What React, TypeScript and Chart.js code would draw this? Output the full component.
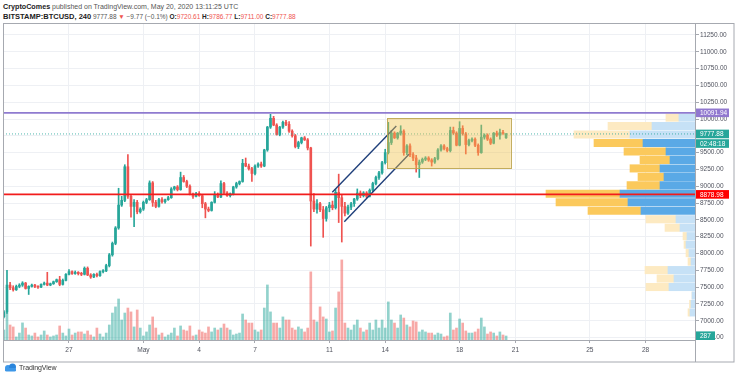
import React, { useEffect, useRef } from 'react';
import { Chart, registerables } from 'chart.js';

Chart.register(...registerables);

const FONT = '"Liberation Sans", Arial, Helvetica, sans-serif';

// Time axis: days relative to 27 Apr 2020 00:00 UTC, 4h candles
const firstCandleDay = -3.5;
const candleStepDay = 1 / 6;
const xMinDay = -3.548;
const xMaxDay = 33.656;
const priceMin = 6713;
const priceMax = 11428;

const opens = [
  7060, 7130, 7530, 7490, 7460, 7510, 7530, 7560, 7480, 7510,
  7530, 7510, 7500, 7540, 7560, 7530, 7550, 7580, 7610, 7540,
  7600, 7690, 7730, 7700, 7720, 7700, 7690, 7780, 7680, 7650,
  7690, 7670, 7730, 7740, 7820, 7980, 8150, 8380, 8720, 8790,
  9290, 8850, 8700, 8760, 8620, 8660, 8760, 8800, 9050, 8760,
  8700, 8800, 8770, 8800, 8830, 8960, 8990, 8950, 9130, 9070,
  9000, 8880, 8850, 8890, 8860, 8740, 8660, 8640, 8760, 8880,
  8840, 9040, 8900, 8860, 8890, 8990, 9040, 9070, 9340, 9300,
  9260, 9190, 9300, 9330, 9300, 9540, 9880, 10010, 9910, 9770,
  9880, 9950, 9920, 9820, 9750, 9590, 9650, 9720, 9690, 9570,
  8780, 8660, 8740, 8650, 8520, 8680, 8720, 8680, 8910, 8830,
  8700, 8600, 8690, 8740, 8810, 8900, 8860, 8900, 8850, 8940,
  9040, 9130, 9200, 9350, 9500, 9650, 9790, 9720, 9790, 9820,
  9500, 9600, 9470, 9420, 9320, 9360, 9400, 9420, 9390, 9360,
  9410, 9540, 9600, 9560, 9530, 9830, 9790, 9610, 9860, 9780,
  9620, 9680, 9700, 9610, 9500, 9730, 9760, 9700, 9640, 9790,
  9760, 9800, 9720.61,
];
const highs = [
  7150, 7750, 7570, 7520, 7530, 7550, 7580, 7570, 7520, 7545,
  7540, 7520, 7550, 7575, 7720, 7560, 7590, 7620, 7660, 7620,
  7700, 7760, 7740, 7740, 7730, 7720, 7800, 7800, 7700, 7700,
  7710, 7740, 7760, 7840, 8000, 8170, 8400, 8970, 8850, 9320,
  9470, 8880, 8800, 8790, 8680, 8780, 8820, 9080, 9070, 8790,
  8820, 8830, 8810, 8850, 8980, 9000, 9010, 9210, 9160, 9090,
  9020, 8900, 8910, 8920, 8880, 8760, 8690, 8770, 8920, 8900,
  9080, 9060, 8920, 8900, 9000, 9060, 9080, 9400, 9420, 9330,
  9280, 9320, 9350, 9360, 9550, 9890, 10070, 10040, 9930, 9890,
  9970, 9980, 9960, 9840, 9770, 9670, 9730, 9740, 9710, 9580,
  8890, 8800, 8760, 8700, 8700, 8760, 8780, 8950, 9180, 8870,
  8760, 8720, 8760, 8820, 8960, 8930, 8920, 8920, 8960, 9060,
  9150, 9220, 9370, 9550, 9950, 9830, 9810, 9800, 9900, 9840,
  9620, 9630, 9500, 9460, 9390, 9420, 9440, 9440, 9410, 9430,
  9560, 9620, 9620, 9580, 9880, 9880, 9810, 9960, 9900, 9800,
  9700, 9720, 9720, 9630, 9910, 9780, 9780, 9720, 9800, 9820,
  9850, 9830, 9786.77,
];
const lows = [
  7040, 7110, 7460, 7440, 7450, 7490, 7510, 7470, 7390, 7500,
  7490, 7480, 7490, 7530, 7520, 7520, 7540, 7570, 7520, 7530,
  7590, 7680, 7690, 7690, 7680, 7670, 7680, 7670, 7630, 7640,
  7650, 7660, 7710, 7730, 7800, 7960, 8130, 8360, 8700, 8770,
  8820, 8540, 8400, 8590, 8600, 8640, 8740, 8790, 8700, 8680,
  8690, 8750, 8750, 8790, 8820, 8940, 8930, 8940, 9060, 8980,
  8870, 8820, 8840, 8850, 8680, 8530, 8620, 8630, 8750, 8830,
  8830, 8890, 8850, 8840, 8870, 8970, 9020, 9060, 9290, 9240,
  9070, 9170, 9280, 9280, 9290, 9520, 9860, 9900, 9760, 9750,
  9860, 9900, 9800, 9730, 9570, 9560, 9630, 9680, 9540, 8110,
  8620, 8600, 8620, 8240, 8480, 8620, 8650, 8660, 8460, 8170,
  8560, 8580, 8650, 8700, 8790, 8830, 8840, 8830, 8840, 8920,
  9020, 9100, 9180, 9330, 9480, 9620, 9710, 9700, 9760, 9460,
  9470, 9440, 9380, 9210, 9130, 9340, 9380, 9370, 9300, 9340,
  9390, 9520, 9540, 9510, 9510, 9770, 9600, 9600, 9760, 9480,
  9600, 9660, 9590, 9460, 9490, 9700, 9680, 9620, 9630, 9740,
  9700, 9770, 9711.0,
];
const closes = [
  7130, 7530, 7490, 7460, 7510, 7530, 7560, 7480, 7510, 7530,
  7510, 7500, 7540, 7560, 7530, 7550, 7580, 7610, 7540, 7600,
  7690, 7730, 7700, 7720, 7700, 7690, 7780, 7680, 7650, 7690,
  7670, 7730, 7740, 7820, 7980, 8150, 8380, 8720, 8790, 9290,
  8850, 8700, 8760, 8620, 8660, 8760, 8800, 9050, 8760, 8700,
  8800, 8770, 8800, 8830, 8960, 8990, 8950, 9130, 9070, 9000,
  8880, 8850, 8890, 8860, 8740, 8660, 8640, 8760, 8880, 8840,
  9040, 8900, 8860, 8890, 8990, 9040, 9070, 9340, 9300, 9260,
  9190, 9300, 9330, 9300, 9540, 9880, 10010, 9910, 9770, 9880,
  9950, 9920, 9820, 9750, 9590, 9650, 9720, 9690, 9570, 8780,
  8660, 8740, 8650, 8520, 8680, 8720, 8680, 8910, 8830, 8700,
  8600, 8690, 8740, 8810, 8900, 8860, 8900, 8850, 8940, 9040,
  9130, 9200, 9350, 9500, 9650, 9790, 9720, 9790, 9820, 9500,
  9600, 9470, 9420, 9320, 9360, 9400, 9420, 9390, 9360, 9410,
  9540, 9600, 9560, 9530, 9830, 9790, 9610, 9860, 9780, 9620,
  9680, 9700, 9610, 9500, 9730, 9760, 9700, 9640, 9790, 9760,
  9800, 9787.65, 9777.88,
];
const volumes = [
  720, 1950, 1080, 940, 220, 500, 1230, 860, 360, 290,
  500, 220, 360, 650, 360, 220, 290, 360, 1010, 500,
  290, 790, 360, 500, 580, 580, 430, 650, 360, 220,
  860, 430, 220, 500, 1080, 1940, 2380, 2950, 1440, 1940,
  2300, 2020, 940, 2160, 860, 290, 580, 1080, 1660, 860,
  360, 500, 220, 360, 500, 860, 290, 1010, 720, 650,
  1010, 290, 360, 720, 580, 500, 940, 580, 860, 720,
  860, 1150, 860, 720, 360, 430, 500, 1870, 1440, 1220,
  1220, 720, 580, 720, 2300, 3960, 2020, 1220, 1220, 860,
  1660, 1440, 1440, 860, 720, 940, 790, 580, 860, 4900,
  1440, 1300, 2380, 1660, 1510, 580, 650, 2300, 3460, 5760,
  1220, 860, 720, 1080, 1440, 860, 580, 720, 1220, 720,
  1440, 860, 1440, 860, 2740, 1440, 1220, 860, 1800, 1580,
  1080, 940, 1370, 1300, 580, 720, 580, 500, 500, 360,
  500, 430, 220, 290, 1940, 720, 860, 1510, 1220, 650,
  500, 500, 580, 790, 1580, 940, 430, 580, 500, 290,
  580, 360, 287,
];
const volumeAxisMax = 22800;

const tickDays = [0, 4, 7, 10, 14, 17, 21, 24, 28, 31];
const tickLabels = ['27', 'May', '4', '7', '11', '14', '18', '21', '25', '28'];
const priceTicks = [6750, 7000, 7250, 7500, 7750, 8000, 8250, 8500, 8750, 9000, 9250, 9500, 9750, 10000, 10250, 10500, 10750, 11000, 11250];

// Visible-range volume profile (price rows, up volume = blue, down volume = yellow)
const profilePrices = [10021, 9895, 9769, 9643, 9517, 9391, 9265, 9139, 9013, 8887, 8761, 8635, 8509, 8383, 8257, 8131, 8005, 7879, 7753, 7627, 7501, 7375, 7249, 7123];
const profileUp = [2410, 6450, 9750, 7800, 4350, 3750, 5250, 4650, 5250, 11250, 10050, 8100, 2850, 2250, 1200, 1350, 900, 600, 4050, 3150, 3900, 450, 600, 750];
const profileDown = [1950, 6600, 8400, 7350, 6300, 4500, 4500, 3900, 4950, 11100, 10800, 7950, 4500, 2250, 600, 300, 450, 450, 3450, 2550, 3450, 0, 225, 300];
const profileInValueArea = [false, false, false, true, true, true, true, true, true, true, true, true, false, false, false, false, false, false, false, false, false, false, false, false];
const profileAxisMax = 103800;

const resistanceLevel = 10091.94;
const supportLevel = 8878.98;
const lastPrice = 9777.88;
const lastVolume = 287;
const countdownText = '02:48:18';

const boxStartDay = 17.1;
const boxEndDay = 23.75;
const boxTopPrice = 10010;
const boxBottomPrice = 9260;
const channelUpper = [{ x: 14.156, y: 8910 }, { x: 17.597, y: 9896 }];
const channelLower = [{ x: 14.801, y: 8473 }, { x: 18.28, y: 9475 }];

const UP = '#26a69a';
const DOWN = '#ef5350';

export default function App() {
  const ref = useRef<HTMLCanvasElement>(null);

  useEffect(() => {
    const canvas = ref.current;
    if (!canvas) return;
    const days = closes.map((_, i) => firstCandleDay + i * candleStepDay);
    const up = closes.map((c, i) => c >= opens[i]);

    // keep the hidden overlay scales exactly on the plot area
    const pinHiddenScales = {
      id: 'pinHiddenScales',
      afterLayout(chart: any) {
        const ca = chart.chartArea;
        ['xp', 'yp', 'yv'].forEach((id) => {
          const s = chart.scales[id];
          if (!s) return;
          s.left = ca.left;
          s.right = ca.right;
          s.top = ca.top;
          s.bottom = ca.bottom;
          s.width = ca.right - ca.left;
          s.height = ca.bottom - ca.top;
          s.configure();
        });
      },
    };

    const overlay = {
      id: 'overlay',
      afterDatasetsDraw(chart: any) {
        const { ctx, chartArea: ca, scales } = chart;
        const x = scales.x;
        const y = scales.y;
        ctx.save();
        ctx.beginPath();
        ctx.rect(ca.left, ca.top, ca.right - ca.left, ca.bottom - ca.top);
        ctx.clip();
        const x1 = x.getPixelForValue(boxStartDay);
        const x2 = x.getPixelForValue(boxEndDay);
        const y1 = y.getPixelForValue(boxTopPrice);
        const y2 = y.getPixelForValue(boxBottomPrice);
        ctx.fillStyle = 'rgba(240,192,70,0.42)';
        ctx.fillRect(x1, y1, x2 - x1, y2 - y1);
        ctx.strokeStyle = 'rgba(190,165,80,0.9)';
        ctx.lineWidth = 1;
        ctx.strokeRect(Math.round(x1) + 0.5, Math.round(y1) + 0.5, Math.round(x2 - x1), Math.round(y2 - y1));
        ctx.restore();
      },
      afterDraw(chart: any) {
        const { ctx, chartArea: ca, scales } = chart;
        const y = scales.y;
        const yv = scales.yv;
        ctx.save();
        ctx.strokeStyle = '#a6a9b0';
        ctx.lineWidth = 1;
        ctx.strokeRect(3.5, 23.5, 730.5, 338.5);
        ctx.beginPath();
        ctx.moveTo(Math.round(ca.right) + 0.5, ca.bottom);
        ctx.lineTo(Math.round(ca.right) + 0.5, 362);
        ctx.stroke();
        const badge = (text: string, yc: number, bg: string, w: number) => {
          const h = 8.6;
          ctx.fillStyle = bg;
          ctx.fillRect(ca.right + 1, yc - h / 2, w, h);
          ctx.fillStyle = '#ffffff';
          ctx.font = `6.5px ${FONT}`;
          ctx.textBaseline = 'middle';
          ctx.textAlign = 'left';
          ctx.fillText(text, ca.right + 5, yc + 0.4);
        };
        badge(resistanceLevel.toFixed(2), y.getPixelForValue(resistanceLevel), '#9178cf', 33);
        const yLast = y.getPixelForValue(lastPrice);
        badge(lastPrice.toFixed(2), yLast, UP, 33);
        badge(countdownText, yLast + 9.6, UP, 33);
        badge(supportLevel.toFixed(2), y.getPixelForValue(supportLevel), '#ff0000', 33);
        badge(String(lastVolume), Math.min(yv.getPixelForValue(lastVolume), ca.bottom - 4.3), UP, 19);
        ctx.restore();
      },
    };

    const chart = new Chart(canvas, {
      type: 'bar',
      data: {
        datasets: [
          {
            type: 'line',
            data: [{ x: xMinDay, y: resistanceLevel }, { x: xMaxDay, y: resistanceLevel }],
            borderColor: '#8f7bd0',
            borderWidth: 1.6,
            pointRadius: 0,
            order: 1,
          },
          {
            type: 'line',
            data: [{ x: xMinDay, y: supportLevel }, { x: xMaxDay, y: supportLevel }],
            borderColor: '#f21c1c',
            borderWidth: 1.6,
            pointRadius: 0,
            order: 1,
          },
          {
            type: 'line',
            data: [{ x: xMinDay, y: lastPrice }, { x: xMaxDay, y: lastPrice }],
            borderColor: 'rgba(38,166,154,0.8)',
            borderWidth: 1,
            borderDash: [1, 2],
            pointRadius: 0,
            order: 2,
          },
          {
            type: 'line',
            data: channelUpper,
            borderColor: '#1f3f7a',
            borderWidth: 1.4,
            pointRadius: 0,
            order: 1,
          },
          {
            type: 'line',
            data: channelLower,
            borderColor: '#1f3f7a',
            borderWidth: 1.4,
            pointRadius: 0,
            order: 1,
          },
          {
            type: 'bar',
            data: days.map((d, i) => ({ x: d, y: [opens[i], closes[i]] })),
            backgroundColor: up.map((u) => (u ? UP : DOWN)),
            barThickness: 2,
            minBarLength: 1,
            grouped: false,
            order: 3,
          },
          {
            type: 'bar',
            data: days.map((d, i) => ({ x: d, y: [lows[i], highs[i]] })),
            backgroundColor: up.map((u) => (u ? UP : DOWN)),
            barThickness: 1,
            grouped: false,
            order: 4,
          },
          {
            type: 'bar',
            indexAxis: 'y',
            xAxisID: 'xp',
            yAxisID: 'yp',
            data: profilePrices.map((p, k) => ({ y: p, x: [0, profileUp[k]] })),
            backgroundColor: profileInValueArea.map((v) => (v ? '#5aa9e6' : '#c6e1f6')),
            barThickness: 7.4,
            grouped: false,
            order: 5,
          },
          {
            type: 'bar',
            indexAxis: 'y',
            xAxisID: 'xp',
            yAxisID: 'yp',
            data: profilePrices.map((p, k) => ({ y: p, x: [profileUp[k], profileUp[k] + profileDown[k]] })),
            backgroundColor: profileInValueArea.map((v) => (v ? '#fbc95c' : '#fdeac2')),
            barThickness: 7.4,
            grouped: false,
            order: 5,
          },
          {
            type: 'bar',
            yAxisID: 'yv',
            data: days.map((d, i) => ({ x: d, y: volumes[i] })),
            backgroundColor: up.map((u) => (u ? 'rgba(38,166,154,0.5)' : 'rgba(239,83,80,0.5)')),
            barThickness: 2,
            grouped: false,
            order: 6,
          },
        ] as any,
      },
      options: {
        responsive: false,
        animation: false,
        devicePixelRatio: 1,
        events: [],
        layout: { padding: { left: 3, top: 23, right: 2, bottom: 13 } },
        plugins: { legend: { display: false }, tooltip: { enabled: false }, title: { display: false } },
        scales: {
          x: {
            type: 'linear',
            min: xMinDay,
            max: xMaxDay,
            offset: false,
            afterBuildTicks: (s: any) => {
              s.ticks = tickDays.map((v) => ({ value: v }));
            },
            afterFit: (s: any) => {
              s.height = 22;
            },
            ticks: {
              autoSkip: false,
              maxRotation: 0,
              padding: 3,
              color: '#50535e',
              font: { family: FONT, size: 6.6 },
              callback: (_v: any, i: number) => tickLabels[i],
            },
            grid: { offset: false, color: '#eef0f4', tickLength: 3, tickColor: '#a6a9b0', lineWidth: 1 },
            border: { display: true, color: '#a6a9b0' },
          },
          y: {
            type: 'linear',
            position: 'right',
            min: priceMin,
            max: priceMax,
            afterBuildTicks: (s: any) => {
              s.ticks = priceTicks.map((v) => ({ value: v }));
            },
            afterFit: (s: any) => {
              s.width = 39;
            },
            ticks: {
              autoSkip: false,
              padding: 1,
              color: '#50535e',
              font: { family: FONT, size: 6.5 },
              callback: (v: any) => Number(v).toFixed(2),
            },
            grid: { color: '#eef0f4', tickLength: 4, tickColor: '#a6a9b0' },
            border: { display: true, color: '#a6a9b0' },
          },
          yv: { type: 'linear', display: false, min: 0, max: volumeAxisMax },
          yp: { type: 'linear', display: false, min: priceMin, max: priceMax, offset: false, grid: { offset: false } },
          xp: { type: 'linear', axis: 'x', display: false, min: 0, max: profileAxisMax, reverse: true, offset: false },
        },
      } as any,
      plugins: [pinHiddenScales, overlay],
    });
    return () => chart.destroy();
  }, []);

  const red = { color: '#ef5350' };
  const dark = { color: '#222' };
  return (
    <div style={{ position: 'fixed', left: 0, top: 0, width: 736, height: 375, background: '#ffffff', fontFamily: FONT, overflow: 'hidden' }}>
      <div style={{ position: 'absolute', left: 3, top: 1.5, fontSize: 7.0, lineHeight: '10px', color: '#555', whiteSpace: 'nowrap' }}>
        <b style={{ ...dark, fontSize: 7.2 }}>CryptoComes</b> published on TradingView.com, May 20, 2020 13:11:25 UTC
      </div>
      <div style={{ position: 'absolute', left: 3, top: 11.5, fontSize: 6.5, lineHeight: '10px', color: '#555', whiteSpace: 'nowrap' }}>
        <b style={{ ...dark, fontSize: 7.5 }}>BITSTAMP:BTCUSD, 240</b> 9777.88 <span style={red}>▼</span> −9.77 (−0.1%){' '}
        <b style={dark}>O:</b><span style={red}>9720.61</span>{' '}
        <b style={dark}>H:</b><span style={red}>9786.77</span>{' '}
        <b style={dark}>L:</b><span style={red}>9711.00</span>{' '}
        <b style={dark}>C:</b><span style={red}>9777.88</span>
      </div>
      <canvas ref={ref} width={736} height={375} style={{ position: 'absolute', left: 0, top: 0, width: 736, height: 375 }} />
      <div style={{ position: 'absolute', left: 4, top: 362, height: 11, display: 'flex', alignItems: 'center' }}>
        <svg width="13" height="9" viewBox="0 0 26 18">
          <path d="M2 16 L9 6 L13 11 L17 4 L24 16 Z" fill="#2a7fd4" />
          <circle cx="8" cy="10" r="6" fill="#3d97e8" />
          <circle cx="17" cy="8" r="7" fill="#2a85dc" />
          <rect x="2" y="10" width="22" height="7" rx="3" fill="#3d97e8" />
        </svg>
        <span style={{ marginLeft: 2, fontSize: 7, color: '#333', letterSpacing: '-0.1px' }}>TradingView</span>
      </div>
    </div>
  );
}
